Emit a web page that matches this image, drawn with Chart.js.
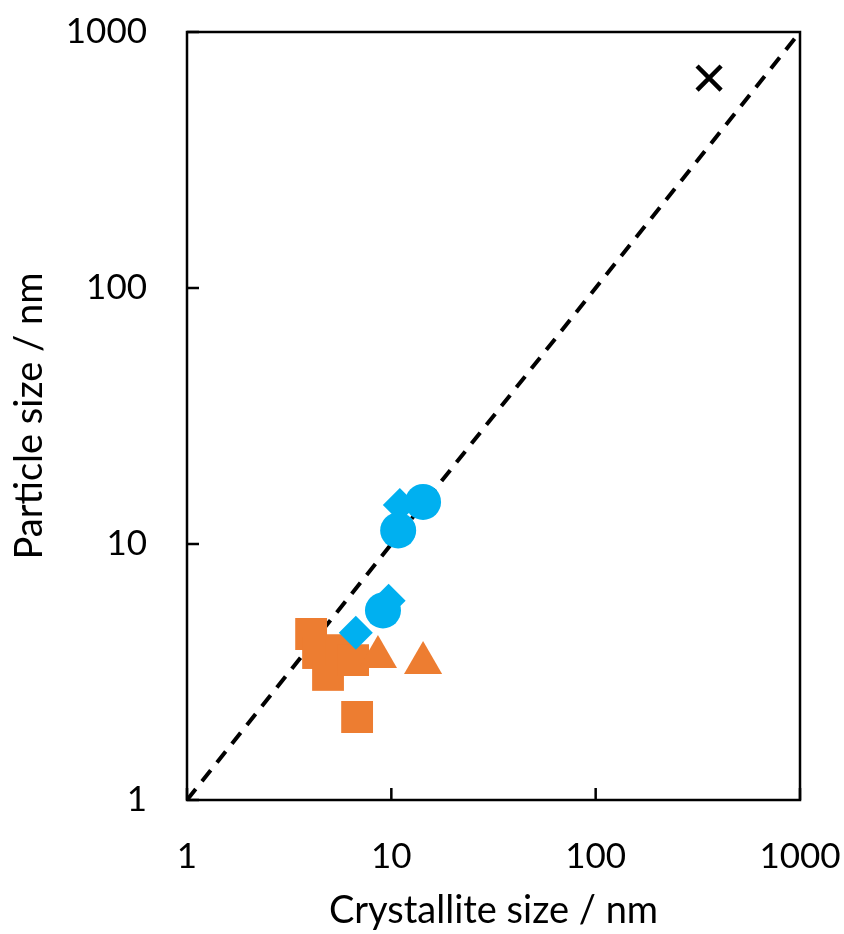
<!DOCTYPE html>
<html>
<head>
<meta charset="utf-8">
<script src="https://cdn.jsdelivr.net/npm/chart.js@4"></script>
<style>
  html, body { margin: 0; padding: 0; background: #fff; }
  #wrap { width: 844px; height: 934px; }
</style>
</head>
<body>
<div id="wrap"><canvas id="myChart"></canvas></div>
<script>
// data (crystallite size x, particle size y, both nm)
var blueCircleX = [14.3, 10.8, 9.1];
var blueCircleY = [14.6, 11.3, 5.5];
var blueDiamondX = [11.0, 9.7, 6.7];
var blueDiamondY = [14.2, 6.0, 4.5];
var orangeSquareX = [4.05, 4.38, 4.9, 5.7, 6.5, 6.8];
var orangeSquareY = [4.45, 3.75, 3.08, 3.85, 3.52, 2.11];
var orangeTriangleX = [8.6, 14.3];
var orangeTriangleY = [3.62, 3.43];
var crossX = [359];
var crossY = [661];
var parityX = [1, 1000];
var parityY = [1, 1000];
var tickValues = [1, 10, 100, 1000];

var blue = "#00B0F0";
var orange = "#ED7D31";
var fontName = "Lato, 'Open Sans', sans-serif";

function pts(xs, ys) {
  return xs.map(function (x, i) { return { x: x, y: ys[i] }; });
}

// box round the plot and inward tick marks
var frame = {
  id: "frame",
  afterDatasetsDraw: function (chart) {
    var ctx = chart.ctx, a = chart.chartArea;
    var xs = chart.scales.x, ys = chart.scales.y;
    ctx.save();
    ctx.strokeStyle = "#000";
    ctx.lineWidth = 2.5;
    ctx.strokeRect(a.left, a.top, a.right - a.left, a.bottom - a.top);
    ctx.beginPath();
    tickValues.forEach(function (v) {
      var px = xs.getPixelForValue(v);
      ctx.moveTo(px, a.bottom);
      ctx.lineTo(px, a.bottom - 12);
      var py = ys.getPixelForValue(v);
      ctx.moveTo(a.left, py);
      ctx.lineTo(a.left + 12, py);
    });
    ctx.stroke();
    ctx.restore();
  }
};

new Chart("myChart", {
  type: "scatter",
  data: {
    datasets: [
      { data: pts(blueCircleX, blueCircleY), pointStyle: "circle", pointRadius: 18,
        backgroundColor: blue, borderColor: blue, borderWidth: 0 },
      { data: pts(blueDiamondX, blueDiamondY), pointStyle: "rectRot", pointRadius: 17,
        backgroundColor: blue, borderColor: blue, borderWidth: 0 },
      { data: pts(orangeTriangleX, orangeTriangleY), pointStyle: "triangle", pointRadius: 22,
        backgroundColor: orange, borderColor: orange, borderWidth: 0 },
      { data: pts(orangeSquareX, orangeSquareY), pointStyle: "rect", pointRadius: 22.5,
        backgroundColor: orange, borderColor: orange, borderWidth: 0 },
      { data: pts(crossX, crossY), pointStyle: "crossRot", pointRadius: 17,
        borderColor: "#000", borderWidth: 4.5 },
      { type: "line", data: pts(parityX, parityY), showLine: true, pointRadius: 0,
        borderColor: "#000", borderWidth: 4, borderDash: [14, 10], fill: false }
    ]
  },
  options: {
    responsive: true,
    maintainAspectRatio: false,
    animation: false,
    events: [],
    layout: { padding: { top: 32, right: 44, left: 0, bottom: 0 } },
    plugins: { legend: { display: false }, tooltip: { enabled: false } },
    scales: {
      x: {
        type: "logarithmic", min: 1, max: 1000,
        afterBuildTicks: function (s) { s.ticks = tickValues.map(function (v) { return { value: v }; }); },
        afterFit: function (s) { s.height = 134; s.paddingLeft = 0; s.paddingRight = 0; },
        grid: { display: false, drawTicks: false },
        border: { display: false },
        ticks: { color: "#000", padding: 36, maxRotation: 0,
          font: { family: fontName, size: 35 },
          callback: function (v) { return String(v); } },
        title: { display: true, text: "Crystallite size / nm", color: "#000",
          padding: { top: 0, bottom: 0 },
          font: { family: fontName, size: 38, lineHeight: 1.2 } }
      },
      y: {
        type: "logarithmic", min: 1, max: 1000,
        afterBuildTicks: function (s) { s.ticks = tickValues.map(function (v) { return { value: v }; }); },
        afterFit: function (s) { s.width = 187; s.paddingTop = 0; s.paddingBottom = 0; },
        grid: { display: false, drawTicks: false },
        border: { display: false },
        ticks: { color: "#000", padding: 40,
          font: { family: fontName, size: 35 },
          callback: function (v) { return String(v); } },
        title: { display: true, text: "Particle size / nm", color: "#000",
          padding: { top: 7, bottom: 0 },
          font: { family: fontName, size: 38, lineHeight: 1.2 } }
      }
    }
  },
  plugins: [frame]
});
</script>
</body>
</html>
